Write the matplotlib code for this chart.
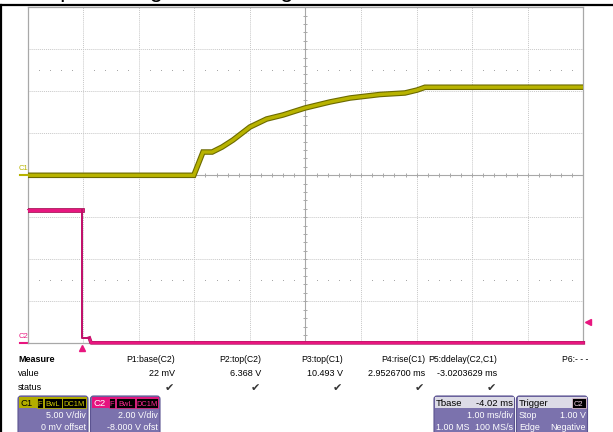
import matplotlib
matplotlib.use('Agg')
import matplotlib.pyplot as plt
import matplotlib.patheffects as pe
from matplotlib.patches import FancyBboxPatch, Rectangle
import numpy as np

plt.rcParams['font.family'] = ['Liberation Sans', 'DejaVu Sans']

# scope settings
t_left = -0.98          # ms at left edge of the screen (1 ms/div, 10 div)
c1_scale, c1_offset = 5.0, 0.0     # V/div, V
c2_scale, c2_offset = 2.0, -8.0
trig_level = 1.00

# C1: output voltage (V) vs time (ms)
c1_t = [-0.98, 2.01, 2.175, 2.34, 2.52, 2.715, 3.02, 3.32, 3.615, 4.01, 4.46,
        4.82, 5.36, 5.81, 6.03, 6.17, 9.02]
c1_v = [0.0, 0.0, 2.77, 2.77, 3.37, 4.20, 5.75, 6.70, 7.18, 8.01, 8.73,
        9.20, 9.62, 9.80, 10.15, 10.48, 10.49]

# C2: enable signal (V) vs time (ms)
c2_t = [-0.98, 0.0, 0.0, 0.13, 0.16, 9.02]
c2_v = [6.368, 6.368, 0.25, 0.25, 0.022, 0.022]

# measurement table
meas_names = ['P1:base(C2)', 'P2:top(C2)', 'P3:top(C1)', 'P4:rise(C1)',
              'P5:ddelay(C2,C1)', 'P6:- - -']
meas_values = ['22 mV', '6.368 V', '10.493 V', '2.9526700 ms', '-3.0203629 ms', '']
meas_ok = [True, True, True, True, True, False]
meas_right = [175, 261, 343, 425, 497, 588]

W, H = 613, 432
fig = plt.figure(figsize=(W / 100, H / 100), dpi=100)

x0, x1, y0, y1 = 27.7, 583.3, 7.3, 343.3
ax = fig.add_axes([x0 / W, 1 - y1 / H, (x1 - x0) / W, (y1 - y0) / H])
ax.set_xlim(t_left, t_left + 10)
ax.set_ylim(-4, 4)
ax.set_xticks([])
ax.set_yticks([])
for s in ax.spines.values():
    s.set_color('#a8a8a8')
    s.set_linewidth(0.9)

# graticule
for i in range(1, 10):
    if i == 5:
        ax.axvline(t_left + i, color='#a8a8a8', lw=0.8, zorder=1)
    else:
        ax.axvline(t_left + i, color='#c8c8c8', lw=0.7, ls=(0, (1, 1)), zorder=1)
for j in range(-3, 4):
    if j == 0:
        ax.axhline(j, color='#a8a8a8', lw=0.8, zorder=1)
    else:
        ax.axhline(j, color='#c8c8c8', lw=0.7, ls=(0, (1, 1)), zorder=1)

sub_x = np.arange(0, 10.001, 0.2)
sub_y = np.arange(-4, 4.001, 0.2)
ax.plot(t_left + sub_x, np.zeros_like(sub_x), ls='none', marker='|', ms=3.5,
        mew=0.7, color='#a8a8a8', zorder=1)
ax.plot(np.full_like(sub_y, t_left + 5), sub_y, ls='none', marker='_', ms=3.5,
        mew=0.7, color='#a8a8a8', zorder=1)
dot_x = sub_x[np.abs(sub_x - np.round(sub_x)) > 0.05]
for yd in (2.5, -2.5):
    ax.plot(t_left + dot_x, np.full_like(dot_x, yd), ls='none', marker='s',
            ms=0.6, mew=0, color='#a0a0a0', zorder=1)

# traces
c1_div = (np.array(c1_v) + c1_offset) / c1_scale
c2_div = (np.array(c2_v) + c2_offset) / c2_scale
ax.plot(c1_t, c1_div, color='#b8b300', lw=2.4, zorder=4, solid_joinstyle='miter',
        path_effects=[pe.Stroke(linewidth=4.0, foreground='#6c6a00'), pe.Normal()])

c2_t = np.array(c2_t)
ax.plot(c2_t, c2_div, color='#b01060', lw=0.8, zorder=3, clip_on=False)
hi = c2_t <= 0
ax.plot(c2_t[hi][:2], c2_div[hi][:2], color='#e8167f', lw=2.2, zorder=4,
        path_effects=[pe.Stroke(linewidth=3.4, foreground='#a80c55'), pe.Normal()])
ax.plot(c2_t[3:], c2_div[3:], color='#e8167f', lw=1.8, zorder=4, clip_on=False,
        path_effects=[pe.Stroke(linewidth=2.6, foreground='#b0105e'), pe.Normal()])
ax.plot(c2_t[1:4], c2_div[1:4], color='#c0106a', lw=1.4, zorder=4, clip_on=False)

# ground markers and trigger markers
yax = ax.get_yaxis_transform()
xax = ax.get_xaxis_transform()
ax.plot([-0.013, 0], [c1_offset / c1_scale] * 2, transform=yax, color='#b8b300',
        lw=1.5, clip_on=False)
ax.text(-0.017, c1_offset / c1_scale + 0.08, 'C1', transform=yax, color='#b8b300',
        fontsize=5.5, ha='left', va='bottom')
ax.plot([-0.013, 0], [-4, -4], transform=yax, color='#e8167f', lw=1.5, clip_on=False)
ax.text(-0.017, -3.93, 'C2', transform=yax, color='#e8167f',
        fontsize=5.5, ha='left', va='bottom')
ax.plot([0], [-0.015], transform=xax, marker='^', ms=5, color='#e8167f',
        clip_on=False)
ax.plot([1.008], [(trig_level + c2_offset) / c2_scale], transform=yax, marker='<',
        ms=5, color='#e8167f', clip_on=False)

# overlay in pixel coordinates for the frame, title and info panels
ov = fig.add_axes([0, 0, 1, 1])
ov.set_xlim(0, W)
ov.set_ylim(H, 0)
ov.axis('off')
ov.patch.set_alpha(0)

ov.text(22, -3, 'Output voltage rise during turn-on', fontsize=17, ha='left',
        va='baseline', color='black', clip_on=False)
ov.plot([0, W], [4.8, 4.8], color='black', lw=1.6)
ov.plot([0.8, 0.8], [4.8, H], color='black', lw=1.6)

fs = 6.5
ov.text(18, 362, 'Measure', fontsize=fs, fontweight='bold', ha='left', va='baseline')
ov.text(18, 376.5, 'value', fontsize=fs, ha='left', va='baseline')
ov.text(18, 390.5, 'status', fontsize=fs, ha='left', va='baseline')
for name, val, ok, xr in zip(meas_names, meas_values, meas_ok, meas_right):
    ov.text(xr, 362, name, fontsize=6.2, ha='right', va='baseline')
    ov.text(xr, 376.5, val, fontsize=fs, ha='right', va='baseline')
    if ok:
        ov.text(xr - 1, 391.5, '\u2714', fontsize=8, ha='right', va='baseline',
                color='#333333')

panel = '#7b72ad'
edge = '#5b5390'
bs = 6.4


def info_box(xl, xr, head_color):
    ov.add_patch(FancyBboxPatch((xl, 396), xr - xl, 44,
                                boxstyle='round,pad=0,rounding_size=3',
                                fc=panel, ec=edge, lw=0.8))
    ov.add_patch(Rectangle((xl + 1, 397), xr - xl - 2, 11.3, fc=head_color, ec='none'))


def tag(xl, xr, label, color):
    ov.add_patch(Rectangle((xl, 398), xr - xl, 9.5, fc='black', ec=color, lw=0.5))
    ov.text((xl + xr) / 2, 406, label, fontsize=5.4, color=color, ha='center',
            va='baseline')


info_box(18, 88, '#b3ad00')
ov.text(20.5, 406.5, 'C1', fontsize=bs + 0.4, color='black', va='baseline')
tag(36.5, 43, 'F', '#d0ca00')
tag(43.5, 61.5, 'BwL', '#d0ca00')
tag(62, 86.3, 'DC1M', '#d0ca00')
ov.text(86, 418, '5.00 V/div', fontsize=bs, color='white', ha='right', va='baseline')
ov.text(86, 430.5, '0 mV offset', fontsize=bs, color='white', ha='right', va='baseline')

info_box(90.5, 160, '#e6127f')
ov.text(93, 406.5, 'C2', fontsize=bs + 0.4, color='white', va='baseline')
tag(108.5, 115, 'F', '#ff2a94')
tag(115.5, 135, 'BwL', '#ff2a94')
tag(135.5, 158.3, 'DC1M', '#ff2a94')
ov.text(158, 418, '2.00 V/div', fontsize=bs, color='white', ha='right', va='baseline')
ov.text(158, 430.5, '-8.000 V ofst', fontsize=bs, color='white', ha='right', va='baseline')

info_box(434, 514.5, '#dcdbe6')
ov.text(436, 406.5, 'Tbase', fontsize=bs + 0.4, color='black', va='baseline')
ov.text(513, 406.5, '-4.02 ms', fontsize=bs + 0.4, color='black', ha='right', va='baseline')
ov.text(513, 418, '1.00 ms/div', fontsize=bs, color='white', ha='right', va='baseline')
ov.text(436, 430.5, '1.00 MS', fontsize=bs, color='white', va='baseline')
ov.text(513, 430.5, '100 MS/s', fontsize=bs, color='white', ha='right', va='baseline')

info_box(516.5, 587.5, '#dcdbe6')
ov.text(519, 406.5, 'Trigger', fontsize=bs + 0.4, color='black', va='baseline')
tag(572, 585.5, 'C2', '#f4d0e4')
ov.text(519, 418, 'Stop', fontsize=bs, color='white', va='baseline')
ov.text(585.5, 418, '1.00 V', fontsize=bs, color='white', ha='right', va='baseline')
ov.text(519, 430.5, 'Edge', fontsize=bs, color='white', va='baseline')
ov.text(585.5, 430.5, 'Negative', fontsize=bs, color='white', ha='right', va='baseline')

fig.savefig('out.png', dpi=100)
